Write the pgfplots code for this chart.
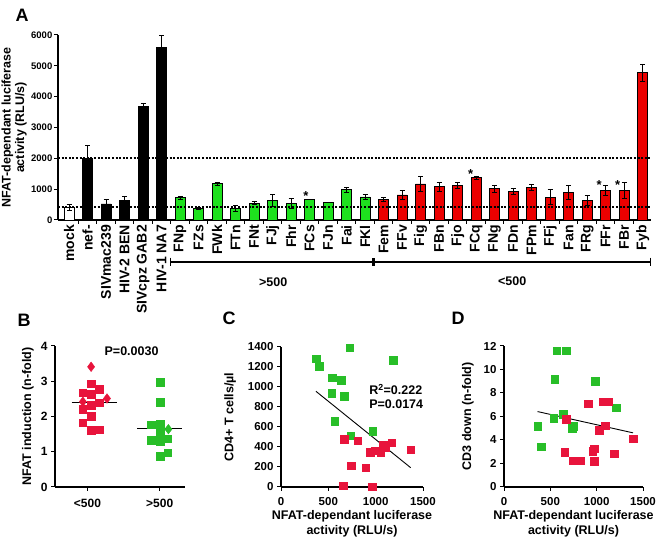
\documentclass[border=0pt]{standalone}
\usepackage{pgfplots}
\pgfplotsset{compat=1.18}
\usepackage{fontspec}
\setmainfont{Liberation Sans}
\definecolor{bargreen}{RGB}{30,225,30}
\definecolor{barred}{RGB}{235,0,0}
\definecolor{ptred}{RGB}{232,20,60}
\definecolor{ptgreen}{RGB}{40,190,40}
\newcommand{\fs}[2]{\fontsize{#1}{#2}\selectfont\bfseries}
\pgfplotsset{
  common/.style={
    scale only axis, anchor=south west, axis lines=left,
    axis line style={-, line width=1.2pt},
    tick style={black, line width=1pt}, tick align=outside,
    major tick length=4pt,
    enlargelimits=false, clip=false,
    /pgf/number format/1000 sep={},
    /pgf/number format/assume math mode=true,
    scaled ticks=false,
  },
  errs/.style={error bars/.cd, y dir=both, y explicit,
    error bar style={line width=0.9pt, black},
    error mark options={rotate=90, line width=0.9pt, black, mark size=2.6pt}},
  barst/.style={ybar, bar width=10pt, bar shift=0pt, draw=black, line width=0.8pt},
}
\begin{document}
\begin{tikzpicture}[x=1pt,y=1pt]
\path[use as bounding box] (0,0) rectangle (661,537);
% Panel letters
\node[font=\fs{18}{18}] at (22,522) {A};
\node[font=\fs{18}{18}] at (24,217) {B};
\node[font=\fs{18}{18}] at (229,219) {C};
\node[font=\fs{18}{18}] at (458,219) {D};

% ---------- Panel A ----------
\begin{axis}[common, at={(58pt,317pt)}, width=593pt, height=185pt,
  xmin=-0.6, xmax=31.45, ymin=0, ymax=6000,
  ytick={0,1000,...,6000},
  yticklabel style={font=\fs{9.5}{10}, inner sep=1.5pt},
  xtick={0,...,31},
  xticklabels={mock,nef-,SIVmac239,HIV-2 BEN,SIVcpz GAB2,HIV-1 NA7,FNp,FZs,FWk,FTn,FNt,FJj,Fhr,FCs,FJn,Fai,FKl,Fem,FFv,Fig,FBn,Fjo,FCq,FNg,FDn,FPm,FFj,Fan,FRg,FFr,FBr,Fyb},
  xticklabel style={rotate=90, anchor=east, font=\fs{14}{14}, inner sep=1pt},
  major x tick style={draw=none},
  minor xtick={0.5,1.5,...,30.5}, minor tick length=4pt,
  minor x tick style={black, line width=1pt},
  ylabel={NFAT-dependant luciferase\\activity (RLU/s)},
  ylabel style={align=center, font=\fs{12.5}{13.5}, at={(axis description cs:-0.074,0.5)}, anchor=center},
]
\addplot[barst, fill=white, errs] coordinates {(0,404) +- (0,100)};
\addplot[barst, fill=black, errs] coordinates {
  (1,2000) +- (0,415) (2,521) +- (0,140) (3,638) +- (0,117)
  (4,3676) +- (0,110) (5,5590) +- (0,380)};
\addplot[barst, fill=bargreen, errs] coordinates {
  (6,723) +- (0,45) (7,360) +- (0,32) (8,1179) +- (0,50) (9,379) +- (0,105)
  (10,547) +- (0,55) (11,632) +- (0,200) (12,537) +- (0,150) (13,663) +- (0,0)
  (14,579) +- (0,0) (15,979) +- (0,70) (16,747) +- (0,85)};
\addplot[barst, fill=barred, errs] coordinates {
  (17,674) +- (0,60) (18,811) +- (0,150) (19,1168) +- (0,230) (20,1074) +- (0,135)
  (21,1116) +- (0,95) (22,1368) +- (0,60) (23,1011) +- (0,125) (24,926) +- (0,85)
  (25,1053) +- (0,105) (26,737) +- (0,240) (27,895) +- (0,230) (28,642) +- (0,160)
  (29,958) +- (0,170) (30,958) +- (0,250) (31,4780) +- (0,280)};
\draw[line width=1.7pt, dash pattern=on 2pt off 1.6pt] (axis cs:-0.6,2000) -- (axis cs:31.45,2000);
\draw[line width=1.7pt, dash pattern=on 2pt off 1.6pt] (axis cs:-0.6,420) -- (axis cs:31.45,420);
% stars
\node[font=\fs{13}{13}] at (axis cs:12.8,780) {*};
\node[font=\fs{13}{13}] at (axis cs:21.7,1490) {*};
\node[font=\fs{13}{13}] at (axis cs:28.65,1130) {*};
\node[font=\fs{13}{13}] at (axis cs:29.65,1130) {*};
% bracket
\draw[line width=1.1pt] (axis cs:5.46,-1362) -- (axis cs:31.42,-1362);
\draw[line width=1.1pt] (axis cs:5.46,-1220) -- (axis cs:5.46,-1500);
\draw[line width=1.1pt] (axis cs:31.42,-1220) -- (axis cs:31.42,-1500);
\fill ([xshift=-1.6pt,yshift=-4pt]axis cs:16.45,-1362) rectangle ([xshift=1.6pt,yshift=4pt]axis cs:16.45,-1362);
\node[font=\fs{12.5}{13}] at (axis cs:11.03,-2011) {>500};
\node[font=\fs{12.5}{13}] at (axis cs:23.95,-1980) {<500};
\end{axis}

% ---------- Panel B ----------
\begin{axis}[common, at={(55pt,50pt)}, width=130pt, height=141pt,
  xmin=0.55, xmax=2.35, ymin=0, ymax=4,
  ytick={0,...,4}, xtick={1,2}, xticklabels={<500,>500},
  ticklabel style={font=\fs{12}{12}},
  xticklabel style={yshift=-5pt},
  ylabel={NFAT induction (n-fold)},
  ylabel style={font=\fs{12.5}{13}, at={(axis description cs:-0.208,0.5)}, anchor=center},
]
\addplot[only marks, mark=square*, mark size=3.8pt, color=ptred] coordinates {
 (1.05,2.93) (0.936,2.67) (1.05,2.64) (1.16,2.78) (0.936,2.21) (1.05,2.32) (1.16,2.39)
 (1.05,2.01) (0.936,1.82) (1.05,1.61) (1.16,1.63)};
\addplot[only marks, mark=diamond*, mark size=4.8pt, color=ptred] coordinates {
 (1.05,3.41) (1.27,2.51) (0.936,2.42)};
\addplot[only marks, mark=square*, mark size=3.8pt, color=ptgreen] coordinates {
 (2.004,2.97) (2.004,2.40) (1.88,1.77) (2.004,1.80) (2.004,1.56)
 (1.88,1.33) (2.004,1.30) (2.11,1.37) (2.004,0.88) (2.11,0.97)};
\addplot[only marks, mark=diamond*, mark size=4.8pt, color=ptgreen] coordinates {(2.12,1.64)};
\addplot[black, line width=1.4pt] coordinates {(0.78,2.4) (1.41,2.4)};
\addplot[black, line width=1.4pt] coordinates {(1.69,1.66) (2.31,1.66)};
\node[font=\fs{12.5}{13}] at (axis cs:1.61,3.86) {P=0.0030};
\end{axis}

% ---------- Panel C ----------
\begin{axis}[common, at={(281pt,50pt)}, width=142pt, height=140pt,
  xmin=0, xmax=1500, ymin=0, ymax=1400,
  xtick={0,500,1000,1500}, ytick={0,200,...,1400},
  ticklabel style={font=\fs{11.5}{12}},
  xticklabel style={yshift=-3pt},
  ylabel={CD4+ T cells/µl},
  ylabel style={font=\fs{12.5}{13}, at={(axis description cs:-0.359,0.5)}, anchor=center},
  xlabel={NFAT-dependant luciferase\\activity (RLU/s)},
  xlabel style={align=center, font=\fs{12.5}{15}, at={(axis description cs:0.5,-0.26)}, anchor=center},
]
\addplot[only marks, mark=square*, mark size=3.8pt, color=ptgreen] coordinates {
 (369,1283) (404,1207) (541,1093) (534,940) (636,1067) (668,910) (727,1393)
 (1188,1267) (569,660) (738,513) (970,560)};
\addplot[only marks, mark=square*, mark size=3.8pt, color=ptred] coordinates {
 (668,477) (812,463) (942,350) (998,363) (1054,347) (1079,423) (1170,443) (1370,373)
 (741,213) (896,193) (657,13) (966,3) (1100,400)};
\addplot[black, line width=0.9pt] coordinates {(369,957) (1370,193)};
\node[font=\fs{12.5}{14}, anchor=west, align=left] at (axis cs:895,905) {R\textsuperscript{2}=0.222\\P=0.0174};
\end{axis}

% ---------- Panel D ----------
\begin{axis}[common, at={(504pt,50pt)}, width=139pt, height=141pt,
  xmin=0, xmax=1500, ymin=0, ymax=12,
  xtick={0,500,1000,1500}, ytick={0,2,...,12},
  ticklabel style={font=\fs{11.5}{12}},
  xticklabel style={yshift=-3pt},
  ylabel={CD3 down (n-fold)},
  ylabel style={font=\fs{12.5}{13}, at={(axis description cs:-0.259,0.5)}, anchor=center},
  xlabel={NFAT-dependant luciferase\\activity (RLU/s)},
  xlabel style={align=center, font=\fs{12.5}{15}, at={(axis description cs:0.5,-0.258)}, anchor=center},
]
\addplot[only marks, mark=square*, mark size=3.8pt, color=ptgreen] coordinates {
 (362,5.15) (402,3.42) (538,5.86) (545,9.17) (570,11.6) (671,11.6) (639,6.2)
 (735,5.0) (746,5.15) (983,9.0) (1213,6.76)};
\addplot[only marks, mark=square*, mark size=3.8pt, color=ptred] coordinates {
 (671,5.77) (911,7.08) (1069,7.27) (1130,7.27) (1091,5.2) (1026,4.81) (1392,4.1)
 (958,3.03) (976,3.25) (976,2.18) (657,2.97) (746,2.24) (822,2.24) (1188,2.83)};
\addplot[black, line width=0.9pt] coordinates {(362,6.42) (1392,4.61)};
\end{axis}
\end{tikzpicture}
\end{document}
